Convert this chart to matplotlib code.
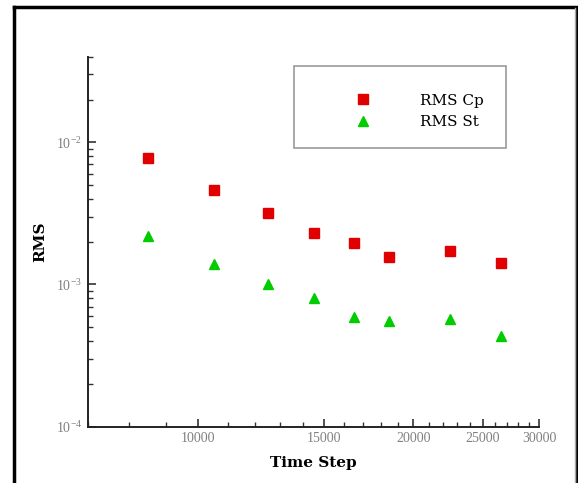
import numpy as np
import matplotlib
matplotlib.use("Agg")
from matplotlib import pyplot as plt
from matplotlib.patches import Rectangle
from matplotlib.ticker import FixedLocator, NullFormatter

# data
time_step = [8500, 10500, 12500, 14500, 16500, 18500, 22500, 26500]
rms_cp = [7.7e-3, 4.6e-3, 3.16e-3, 2.32e-3, 1.97e-3, 1.57e-3, 1.71e-3, 1.42e-3]
rms_st = [2.2e-3, 1.39e-3, 1.0e-3, 8.1e-4, 5.95e-4, 5.5e-4, 5.75e-4, 4.35e-4]
labels = ["RMS Cp", "RMS St"]
x_major = [10000, 15000, 20000, 25000, 30000]
y_major = [1e-4, 1e-3, 1e-2]

plt.rcParams["font.family"] = ["Liberation Serif", "DejaVu Serif"]
plt.rcParams["mathtext.fontset"] = "custom"
plt.rcParams["mathtext.rm"] = "Liberation Serif"

fig = plt.figure(figsize=(5.78, 4.83), dpi=100)
ax = fig.add_axes([0.1517, 0.1166, 0.933 - 0.1517, 0.8826 - 0.1166])

ax.plot(time_step, rms_cp, "s", color="#e00000", markersize=7, label=labels[0])
ax.plot(time_step, rms_st, "^", color="#00cc00", markersize=7.5, label=labels[1])

ax.set_xscale("log")
ax.set_yscale("log")
ax.set_xlim(7000, 30000)
ax.set_ylim(1e-4, 4e-2)

# ticks
ax.xaxis.set_major_locator(FixedLocator(x_major))
ax.xaxis.set_major_formatter(plt.FuncFormatter(lambda v, p: f"{int(v)}"))
ax.xaxis.set_minor_locator(FixedLocator(np.arange(7000, 30001, 1000)))
ax.xaxis.set_minor_formatter(NullFormatter())
ax.yaxis.set_major_locator(FixedLocator(y_major))
ax.yaxis.set_major_formatter(plt.FuncFormatter(
    lambda v, p: r"$10^{-%d}$" % int(round(-np.log10(v)))))
ax.yaxis.set_minor_locator(FixedLocator(
    [m * 10.0 ** e for e in (-4, -3, -2) for m in range(2, 10)]))
ax.yaxis.set_minor_formatter(NullFormatter())

ax.tick_params(which="major", direction="in", length=6, width=1.2,
               color="#333333", labelsize=10, labelcolor="#808080", pad=4)
ax.tick_params(which="minor", direction="in", length=3.5, width=1.0,
               color="#333333")

for s in ["top", "right"]:
    ax.spines[s].set_visible(False)
for s in ["left", "bottom"]:
    ax.spines[s].set_linewidth(1.4)
    ax.spines[s].set_color("#222222")

label_font = dict(family=["DejaVu Serif"], fontsize=11, fontweight="bold")
ax.set_xlabel("Time Step", labelpad=8, **label_font)
ax.set_ylabel("RMS", labelpad=6, **label_font)

# legend with its own box
leg = fig.legend(loc="center left", bbox_to_anchor=(0.594, 0.7695),
                 frameon=False, handlelength=1.6, handletextpad=2.9,
                 borderpad=0, labelspacing=0.5,
                 prop=dict(family="DejaVu Serif", size=11))
fig.add_artist(Rectangle((293.8 / 578, 1 - 148.3 / 483),
                         (506 - 293.8) / 578, (148.3 - 66) / 483,
                         transform=fig.transFigure, fill=False,
                         edgecolor="#999999", linewidth=1.2))

# outer frame of the picture
fig.add_artist(plt.Line2D([14 / 578, 14 / 578], [-0.05, 1 - 7 / 483],
                          transform=fig.transFigure, color="black", linewidth=2.5))
fig.add_artist(plt.Line2D([14 / 578, 577 / 578], [1 - 7 / 483, 1 - 7 / 483],
                          transform=fig.transFigure, color="black", linewidth=2.5))
fig.add_artist(plt.Line2D([577 / 578, 577 / 578], [-0.05, 1 - 7 / 483],
                          transform=fig.transFigure, color="black", linewidth=2.0))
fig.add_artist(plt.Line2D([574.5 / 578, 574.5 / 578], [-0.05, 1 - 8 / 483],
                          transform=fig.transFigure, color="#aaaaaa", linewidth=1.0))

fig.savefig("out.png", dpi=100)
